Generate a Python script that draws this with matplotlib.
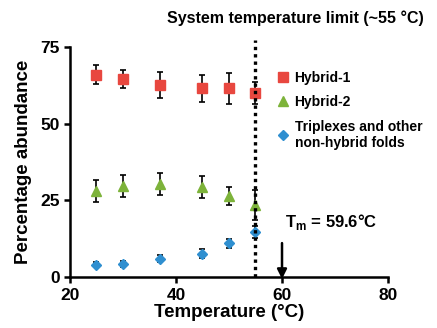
import matplotlib.pyplot as plt
from matplotlib.lines import Line2D

temps = [25, 30, 37, 45, 50, 55]
hybrid1 = [66, 64.5, 62.5, 61.5, 61.5, 60]
hybrid1_err = [3.2, 3.0, 4.2, 4.3, 5.0, 3.5]
hybrid2 = [28, 29.7, 30.2, 29.3, 26.5, 23.5]
hybrid2_err = [3.5, 3.5, 3.6, 3.5, 3.0, 5.0]
triplex = [4.0, 4.3, 6.0, 7.7, 11.0, 14.7]
triplex_err = [0.8, 1.0, 1.2, 1.6, 1.5, 2.0]

series = [
    (hybrid1, hybrid1_err, 's', '#e8473f', 7.5, 'Hybrid-1'),
    (hybrid2, hybrid2_err, '^', '#7db33a', 7.5, 'Hybrid-2'),
    (triplex, triplex_err, 'D', '#2f8fd0', 5.5, 'Triplexes and other\nnon-hybrid folds'),
]

plt.rcParams['font.family'] = 'Liberation Sans'
plt.rcParams['font.weight'] = 'bold'

fig = plt.figure(figsize=(4.37, 3.28), dpi=100)
ax = fig.add_axes([0.16, 0.155, 0.728, 0.702])

handles = []
for vals, err, mk, col, ms, lab in series:
    ax.errorbar(temps, vals, yerr=err, fmt=mk, color=col, ms=ms, ecolor='black',
                elinewidth=1.2, capsize=2, capthick=1.2, zorder=3)
    handles.append(Line2D([], [], ls='none', marker=mk, color=col, ms=ms, label=lab))

ax.axvline(55, ymin=0, ymax=1.03, color='black', ls=(0, (1, 1.2)), lw=2.4, clip_on=False, zorder=4)

ax.set_xlim(20, 80)
ax.set_ylim(0, 75)
ax.set_xticks([20, 40, 60, 80])
ax.set_yticks([0, 25, 50, 75])
ax.spines['top'].set_visible(False)
ax.spines['right'].set_visible(False)
ax.spines['left'].set_linewidth(1.8)
ax.spines['bottom'].set_linewidth(1.8)
ax.tick_params(width=1.8, length=4, labelsize=12.5)
ax.set_xlabel('Temperature (°C)', fontsize=13.5, fontweight='bold', labelpad=1)
ax.set_ylabel('Percentage abundance', fontsize=13.5, fontweight='bold', labelpad=6)

ax.annotate('', xy=(60, -1.5), xytext=(60, 12), annotation_clip=False,
            arrowprops=dict(arrowstyle='-|>', color='black', lw=1.8, mutation_scale=14))
ax.text(60.5, 16.5, r'T$_\mathregular{m}$ = 59.6°C', fontsize=12, fontweight='bold')

fig.text(0.675, 0.945, 'System temperature limit (~55 °C)', ha='center', va='center',
         fontsize=11.5, fontweight='bold')

ax.legend(handles=handles, loc='upper left', bbox_to_anchor=(0.61, 0.95), frameon=False,
          fontsize=10, handletextpad=0.3, labelspacing=0.75, handlelength=1.0)

fig.savefig('out.png', dpi=100)
